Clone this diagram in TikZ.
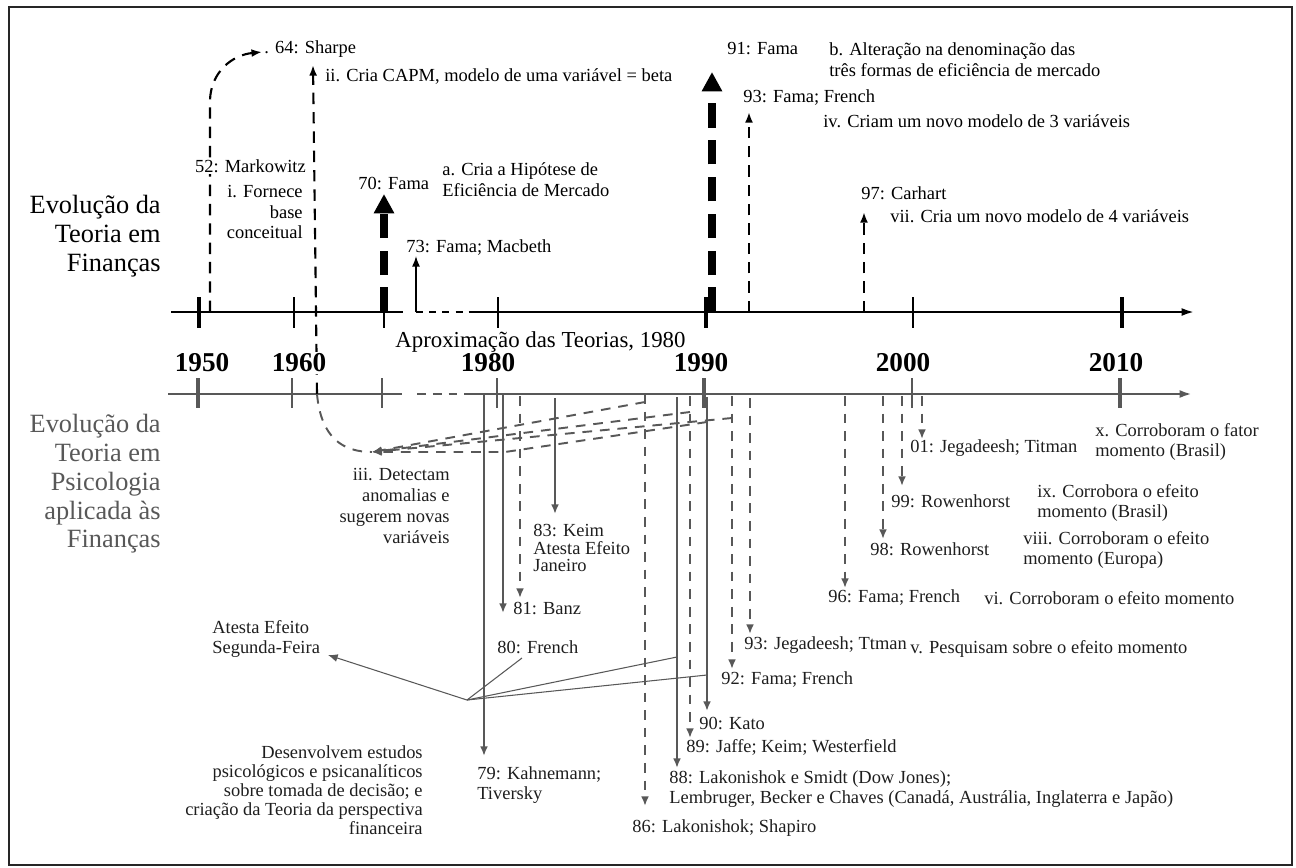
\documentclass[tikz,border=0pt]{standalone}
\usepackage{fontspec}
\setmainfont{Liberation Serif}
\usetikzlibrary{arrows.meta,positioning}
\definecolor{psygray}{RGB}{88,88,88}
\definecolor{inkgray}{RGB}{30,30,30}

\begin{document}
\begin{tikzpicture}[x=0.02cm,y=-0.02cm,
	txt/.style={inner sep=0pt,font=\fontsize{10.5}{11.8}\selectfont},
	lbl/.style={txt,anchor=west,align=left},
	lblr/.style={txt,anchor=east,align=right},
	bigtitle/.style={inner sep=0pt,anchor=east,align=right,font=\fontsize{15}{16.4}\selectfont},
	year/.style={inner sep=1pt,fill=white,font=\fontsize{15.5}{18}\selectfont\bfseries},
	timeline/.style={line width=1.2pt},
	dsh/.style={line width=1.2pt,dash pattern=on 6.5pt off 4.5pt},
	tipf/.style={-{Latex[length=6pt,width=4.5pt]}},
	fat/.style={line width=4.5pt,dash pattern=on 14pt off 7pt,-{Triangle[length=11pt,width=11pt]}},
	psy/.style={draw=psygray,line width=1.1pt},
	pdsh/.style={psy,dash pattern=on 5.5pt off 4.5pt},
	tipp/.style={-{Latex[length=5.5pt,width=4.5pt]}},
	link/.style={draw=psygray,line width=0.6pt}]
	\useasboundingbox (0,0) rectangle (1296,867);
	\draw[line width=0.8pt,black!85] (9,7) rectangle (1292,865);

	% axis of finance theory
	\coordinate (fa0) at (171,312);
	\coordinate (fa1) at (1194,312);
	\draw[timeline] (fa0) -- (403,312);
	\draw[timeline,dash pattern=on 4pt off 3.5pt] (416,312) -- (473,312);
	\draw[timeline,-{Latex[length=7pt,width=4.5pt]}] (473,312) -- (fa1);
	\foreach \x/\w in {199/2.2,294/1.3,384/1.6,498/1.3,706/1.8,913/1.3,1122/2.2}
		\draw[line width=\w pt] (\x,297) -- (\x,328);

	% axis of psychology applied to finance
	\coordinate (pa0) at (168,394);
	\coordinate (pa1) at (1192,394);
	\draw[psy,line width=1.4pt] (pa0) -- (402,394);
	\draw[psy,line width=1.4pt,dash pattern=on 5pt off 4pt] (417,394) -- (472,394);
	\draw[psy,line width=1.4pt,-{Latex[length=7pt,width=4.5pt]}] (472,394) -- (pa1);
	\foreach \x/\w in {198/2.2,292/1.3,382/1.6,497/1.3,704/2.2,912/1.6,1120/2.2}
		\draw[psy,line width=\w pt] (\x,378) -- (\x,408);

	% finance arrows
	\coordinate (f52) at (210,312);
	\coordinate (s52) at (262,52);
	\coordinate (f64) at (317,394);
	\coordinate (s64) at (313,65);
	\coordinate (f70) at (384,312);
	\coordinate (s70) at (384,194);
	\coordinate (f73) at (416,312);
	\coordinate (s73) at (416,256);
	\coordinate (f91) at (712,312);
	\coordinate (s91) at (712,72);
	\coordinate (f93) at (749,312);
	\coordinate (s93) at (749,112);
	\coordinate (f97) at (864,312);
	\coordinate (s97) at (864,212);
	\draw[dsh,tipf] (f52) -- (210,100) .. controls (211,72) and (232,55) .. (s52);
	\draw[dsh,tipf] (f64) -- (s64);
	\draw[fat] (f70) -- (s70);
	\draw[fat] (f91) -- (s91);
	\draw[line width=0.8pt,tipf] (f73) -- (s73);
	\draw[dsh,tipf] (f93) -- (s93);
	\draw[dsh,tipf] (f97) -- (s97);

	% psychology arrows
	\coordinate (p79) at (484,394);
	\coordinate (e79) at (484,756);
	\coordinate (p81) at (503,394);
	\coordinate (e81) at (503,613);
	\coordinate (p80) at (520,396);
	\coordinate (e80) at (520,598);
	\coordinate (p83) at (555,398);
	\coordinate (e83) at (555,514);
	\coordinate (p86) at (645,394);
	\coordinate (e86) at (645,806);
	\coordinate (p88) at (677,397);
	\coordinate (e88) at (677,768);
	\coordinate (p89) at (690,396);
	\coordinate (e89) at (690,738);
	\coordinate (p90) at (707,397);
	\coordinate (e90) at (707,711);
	\coordinate (p92) at (732,396);
	\coordinate (e92) at (732,669);
	\coordinate (p93) at (750,398);
	\coordinate (e93) at (750,634);
	\coordinate (p96) at (845,396);
	\coordinate (e96) at (845,588);
	\coordinate (p98) at (883,396);
	\coordinate (e98) at (883,539);
	\coordinate (p99) at (902,396);
	\coordinate (e99) at (902,486);
	\coordinate (p01) at (922,396);
	\coordinate (e01) at (922,439);
	\path[tipp]
	(p79) edge[psy] (e79)
	(p81) edge[psy] (e81)
	(p80) edge[pdsh] (e80)
	(p83) edge[psy] (e83)
	(p86) edge[pdsh] (e86)
	(p88) edge[psy] (e88)
	(p89) edge[pdsh] (e89)
	(p90) edge[psy] (e90)
	(p92) edge[pdsh] (e92)
	(p93) edge[pdsh] (e93)
	(p96) edge[pdsh] (e96)
	(p98) edge[pdsh] (e98)
	(p99) edge[pdsh] (e99)
	(p01) edge[pdsh] (e01);

	% anomalies back to the theory
	\coordinate (hub) at (372,452);
	\coordinate (a86) at (645,402);
	\coordinate (a89) at (690,412);
	\coordinate (a90) at (707,422);
	\coordinate (a92) at (732,418);
	\draw[pdsh] (f64) .. controls (321,438) and (343,452) .. (hub);
	\path[tipp]
	(a86) edge[pdsh] (hub)
	(a89) edge[pdsh] (hub)
	(a92) edge[pdsh] (hub);
	\draw[pdsh,tipp] (a90) -- (505,452) -- (hub);

	% links to the text blocks
	\coordinate (lk) at (467,700);
	\coordinate (lseg) at (328,655);
	\coordinate (l80) at (522,658);
	\coordinate (l88) at (677,657);
	\coordinate (l90) at (707,675);
	\draw[link,tipp] (lk) -- (lseg);
	\draw[link] (lk) -- (l80);
	\draw[link] (lk) -- (l88);
	\draw[link] (lk) -- (l90);

	% finance labels
	\node[bigtitle] (tfin) at (161,236) {Evolução da\\Teoria em\\Finanças};
	\node[lbl,fill=white,inner sep=1pt] (n52) at (193,166) {52: Markowitz};
	\node[lblr] (c52) at (303,212) {i. Fornece\\base\\conceitual};
	\node[lbl] (n64) at (264,49) {. 64: Sharpe};
	\node[lbl] (c64) at (325,76) {ii. Cria CAPM, modelo de uma variável = beta};
	\node[lbl] (n70) at (358,183) {70: Fama};
	\node[lbl] (c70) at (442,180) {a. Cria a Hipótese de\\Eficiência de Mercado};
	\node[lbl] (n73) at (406,248) {73: Fama; Macbeth};
	\node[lbl] (n91) at (727,49) {91: Fama};
	\node[lbl] (c91) at (829,60) {b. Alteração na denominação das\\três formas de eficiência de mercado};
	\node[lbl] (n93) at (743,98) {93: Fama; French};
	\node[lbl] (c93) at (823,121) {iv. Criam um novo modelo de 3 variáveis};
	\node[lbl] (n97) at (861,193) {97: Carhart};
	\node[lbl] (c97) at (890,216) {vii. Cria um novo modelo de 4 variáveis};

	% middle
	\node[txt,anchor=west,font=\fontsize{13}{15}\selectfont] (aprox) at (395,342) {Aproximação das Teorias, 1980};
	\node[year] (y1950) at (202,363) {1950};
	\node[year] (y1960) at (299,363) {1960};
	\node[year] (y1980) at (488,363) {1980};
	\node[year] (y1990) at (701,363) {1990};
	\node[year] (y2000) at (903,363) {2000};
	\node[year] (y2010) at (1116,363) {2010};

	% psychology labels
	\begin{scope}[every node/.append style={text=inkgray}]
	\node[bigtitle,text=psygray] (tpsy) at (161,484) {Evolução da\\Teoria em\\Psicologia\\aplicada às\\Finanças};
	\node[lblr] (c3) at (450,506) {iii. Detectam\\anomalias e\\sugerem novas\\variáveis};
	\node[lbl,font=\fontsize{10.5}{10}\selectfont] (n83) at (533,548) {83: Keim\\Atesta Efeito\\Janeiro};
	\node[lbl] (n81) at (513,608) {81: Banz};
	\node[lbl] (n80) at (497,647) {80: French};
	\node[lbl,font=\fontsize{10.5}{11}\selectfont] (nseg) at (212,639) {Atesta Efeito\\Segunda-Feira};
	\node[lblr,font=\fontsize{10.5}{10.9}\selectfont] (ndes) at (423,790) {Desenvolvem estudos\\psicológicos e psicanalíticos\\sobre tomada de decisão; e\\criação da Teoria da perspectiva\\financeira};
	\node[lbl] (n79) at (477,785) {79: Kahnemann;\\Tiversky};
	\node[lbl] (n86) at (632,828) {86: Lakonishok; Shapiro};
	\node[lbl,font=\fontsize{10.5}{10.9}\selectfont] (n88) at (669,789) {88: Lakonishok e Smidt (Dow Jones);\\Lembruger, Becker e Chaves (Canadá, Austrália, Inglaterra e Japão)};
	\node[lbl] (n89) at (686,747) {89: Jaffe; Keim; Westerfield};
	\node[lbl] (n90) at (699,723) {90: Kato};
	\node[lbl] (n92) at (721,680) {92: Fama; French};
	\node[lbl] (n93p) at (744,645) {93: Jegadeesh; Ttman};
	\node[lbl] (c93p) at (910,649) {v. Pesquisam sobre o efeito momento};
	\node[lbl] (n96) at (828,598) {96: Fama; French};
	\node[lbl] (c96) at (984,598) {vi. Corroboram o efeito momento};
	\node[lbl] (n98) at (870,549) {98: Rowenhorst};
	\node[lbl] (c98) at (1023,550) {viii. Corroboram o efeito\\momento (Europa)};
	\node[lbl] (n99) at (891,501) {99: Rowenhorst};
	\node[lbl] (c99) at (1037,503) {ix. Corrobora o efeito\\momento (Brasil)};
	\node[lbl] (n01) at (910,448) {01: Jegadeesh; Titman};
	\node[lbl] (c01) at (1095,442) {x. Corroboram o fator\\momento (Brasil)};
	\end{scope}
\end{tikzpicture}
\end{document}
